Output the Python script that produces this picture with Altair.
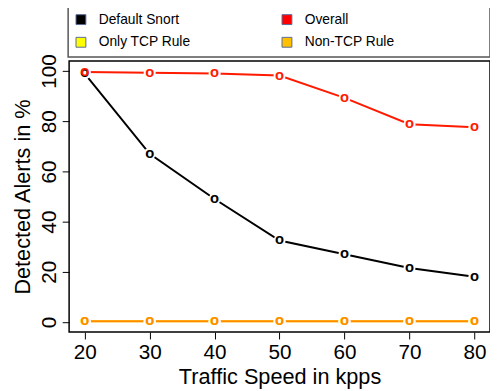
import altair as alt
import pandas as pd

speeds = [20, 30, 40, 50, 60, 70, 80]
series_names = ["Default Snort", "Overall", "Only TCP Rule", "Non-TCP Rule"]
legend_order = ["Default Snort", "Only TCP Rule", "Overall", "Non-TCP Rule"]
default_snort = [99.0, 67.0, 49.0, 32.5, 27.0, 21.5, 18.0]
overall = [99.6, 99.3, 99.0, 98.2, 89.3, 78.8, 77.6]
only_tcp = [0.3, 0.3, 0.3, 0.3, 0.3, 0.3, 0.3]
non_tcp = [0.3, 0.3, 0.3, 0.3, 0.3, 0.3, 0.3]
line_colors = ["#000000", "#FF1A00", "#FFE800", "#FF8C00"]
legend_colors = ["#000000", "#FFFF00", "#FF0000", "#FFC000"]
y_ticks = [0, 20, 40, 60, 80, 100]

rows = []
for k, (name, vals) in enumerate(zip(series_names, [default_snort, overall, only_tcp, non_tcp])):
    for i, (s, v) in enumerate(zip(speeds, vals)):
        rows.append({"speed": s, "value": v, "series": name, "order": k * 10 + i})
df = pd.DataFrame(rows)

FONT = "Liberation Sans"

x = alt.X("speed:Q", scale=alt.Scale(domain=[17.6, 82.4], nice=False, zero=False),
          axis=alt.Axis(values=speeds, title="Traffic Speed in kpps"))
y = alt.Y("value:Q", scale=alt.Scale(domain=[-4, 104], nice=False, zero=False),
          axis=alt.Axis(values=y_ticks, title="Detected Alerts in %", labelAngle=-90,
                        labelAlign="center", labelBaseline="bottom"))
color = alt.Color("series:N", scale=alt.Scale(domain=series_names, range=line_colors), legend=None)

base = alt.Chart(df)

legend_layer = base.mark_square(opacity=0, size=100).encode(
    x=x, y=y,
    fill=alt.Fill("series:N", scale=alt.Scale(domain=legend_order, range=legend_colors),
                  legend=alt.Legend(title=None, orient="none", legendX=5, legendY=-49,
                                    columns=2, columnPadding=90, rowPadding=9,
                                    symbolType="square", symbolSize=100, symbolOpacity=1,
                                    symbolStrokeColor="#5a6a9a", symbolStrokeWidth=1,
                                    labelFont=FONT, labelFontSize=14, labelColor="black",
                                    labelOffset=11)),
)

lines = base.mark_line(strokeWidth=2).encode(x=x, y=y, color=color, detail="series:N", order="order:Q")
gaps = base.mark_point(filled=True, shape="circle", size=150, color="white", opacity=1).encode(x=x, y=y)
pts = base.mark_text(text="o", font=FONT, fontSize=15, fontWeight="bold", baseline="middle", dy=-1).encode(
    x=x, y=y, color=color, order="order:Q")

frame = alt.Chart(pd.DataFrame({"a": [0]})).mark_rect(fill=None, stroke="#555555", strokeWidth=1.5).encode(
    x=alt.value(-1), x2=alt.value(427), y=alt.value(-56), y2=alt.value(-4))

chart = alt.layer(legend_layer, lines, gaps, pts, frame).properties(
    width=427, height=275,
    autosize=alt.AutoSizeParams(type="none"),
    padding={"left": 62, "top": 51, "right": 0, "bottom": 56},
).configure_view(stroke="black", strokeWidth=1.5).configure_axis(
    labelFont=FONT, titleFont=FONT, labelFontSize=21, titleFontSize=22,
    titleFontWeight="normal", labelColor="black", titleColor="black",
    tickColor="black", tickSize=7, domain=False, grid=False, labelPadding=3,
).configure_axisY(titlePadding=4).configure_axisX(titlePadding=4)

chart.save("out.html", embed_options={"renderer": "svg", "actions": False})
